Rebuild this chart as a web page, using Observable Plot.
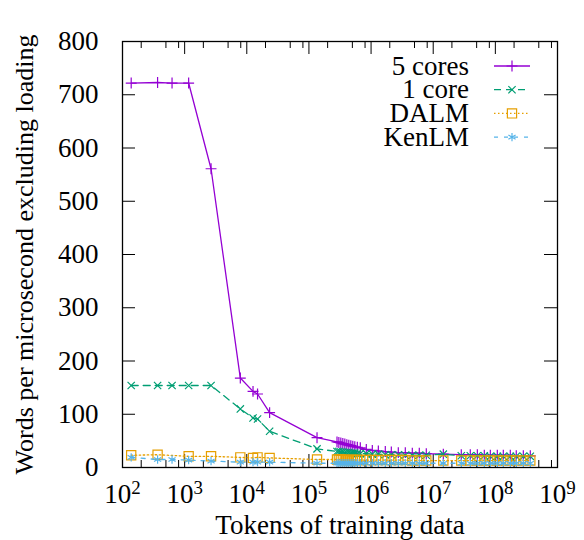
<!DOCTYPE html>
<html><head><meta charset="utf-8">
<script src="https://cdn.jsdelivr.net/npm/d3@7"></script>
<script src="https://cdn.jsdelivr.net/npm/@observablehq/plot@0.6"></script>
<style>body{margin:0;background:#fff;}</style></head><body><div id="chart"></div>
<script>
// ---- data ----
const tokens = [138, 367, 627, 1160, 2660, 7870, 12600, 14900, 23300, 135000,
  283000, 303000, 326000, 351000, 378000, 407000, 438000, 472000, 508000, 547000, 601000, 671000,
  838000, 1047000, 1309000, 1694000, 2118000, 2743000, 3555000, 4610000, 5970000, 7740000,
  14550000, 28300000, 39500000, 51300000, 66400000, 83000000, 107500000, 134300000, 174000000, 217000000, 282000000, 365000000];
const cores5 = [722, 723, 722, 722, 561, 168, 143, 138, 103, 56,
  48, 47, 46, 45, 44, 43, 42, 41, 40, 39, 38, 37,
  34, 32, 31, 30, 29, 28, 28, 27, 27, 26,
  25, 24, 24, 24, 23, 23, 23, 23, 23, 22, 22, 22];
const core1 = [154, 154, 154, 154, 154, 110, 93, 91, 68, 35,
  30, 30, 29, 29, 28, 28, 28, 27, 27, 27, 26, 26,
  26, 25, 25, 24, 24, 24, 23, 23, 23, 23,
  25, 22, 22, 22, 22, 21, 21, 21, 21, 21, 21, 21];
const dalm = [23, 24, null, 21, 21, 19, 18, 19, 18, 15,
  15, 15, 15, 14, 14, 14, 14, 14, 14, 14, 14, 14,
  14, 14, 14, 14, 14, 14, 14, 13, 13, 13,
  13, 13, 13, 13, 13, 13, 13, 13, 13, 13, 13, 13];
const kenlm = [19, 15, 15, 14, 12, 10, 10, 10, 10, 8,
  8, 8, 8, 8, 8, 8, 8, 8, 8, 8, 8, 8,
  8, 8, 8, 8, 8, 8, 8, 8, 8, 8,
  8, 8, 8, 8, 8, 8, 8, 8, 8, 8, 8, 8];
const seriesNames = ["5 cores", "1 core", "DALM", "KenLM"];
const xTicks = [1e2, 1e3, 1e4, 1e5, 1e6, 1e7, 1e8, 1e9];
const xTickExp = ["2", "3", "4", "5", "6", "7", "8", "9"];
const minorMult = [2, 5, 8];
const yTicks = [0, 100, 200, 300, 400, 500, 600, 700, 800];
const xLabel = "Tokens of training data";
const yLabel = "Words per microsecond excluding loading";

// ---- style ----
const colors = ["#9400d3", "#009e73", "#e69f00", "#56b4e9"];
const symbols = ["plus", "times", "square", "asterisk"];
const dashes = [null, "7,5", "1.5,2.5", "4,6"];
const radii = [3.6, 3.4, 5.2, 3.9];
const values = [cores5, core1, dalm, kenlm];

const W = 584, H = 540, ML = 122, MR = 27, MT = 41, MB = 73;
const pxPerDecade = (W - ML - MR) / 7;
const unitsPerPx = 800 / (H - MT - MB);
const major = 13, minor = 7;
const FONT = "Liberation Serif";
const FS = 27;

const series = seriesNames.map((name, k) =>
  tokens.map((t, i) => ({name, t, v: values[k][i]})).filter(d => d.v != null));

const minorX = xTicks.slice(0, -1).flatMap(t => minorMult.map(m => t * m));
const yTickX2 = xTicks[0] * Math.pow(10, major / pxPerDecade);
const yTickX2r = xTicks[xTicks.length - 1] / Math.pow(10, major / pxPerDecade);

const marks = [
  Plot.ruleX(xTicks, {x: d => d, y1: 0, y2: major * unitsPerPx, stroke: "black", strokeWidth: 1}),
  Plot.ruleX(xTicks, {x: d => d, y1: 800, y2: 800 - major * unitsPerPx, stroke: "black", strokeWidth: 1}),
  Plot.ruleX(minorX, {x: d => d, y1: 0, y2: minor * unitsPerPx, stroke: "black", strokeWidth: 1}),
  Plot.ruleX(minorX, {x: d => d, y1: 800, y2: 800 - minor * unitsPerPx, stroke: "black", strokeWidth: 1}),
  Plot.ruleY(yTicks, {y: d => d, x1: xTicks[0], x2: yTickX2, stroke: "black", strokeWidth: 1}),
  Plot.ruleY(yTicks, {y: d => d, x1: xTicks[xTicks.length - 1], x2: yTickX2r, stroke: "black", strokeWidth: 1}),
  Plot.text(xTicks, {x: d => d, frameAnchor: "bottom", dy: 16, lineAnchor: "top", textAnchor: "middle",
    text: (d, i) => "10^" + xTickExp[i], fontSize: FS, fontFamily: FONT, ariaLabel: "xticklabels"}),
  Plot.text(yTicks, {y: d => d, frameAnchor: "left", dx: -24, textAnchor: "end", lineAnchor: "middle",
    text: d => String(d), fontSize: FS, fontFamily: FONT}),
  Plot.text([xLabel], {frameAnchor: "bottom", dy: 47, lineAnchor: "top", textAnchor: "middle",
    text: d => d, fontSize: FS, fontFamily: FONT}),
  Plot.text([yLabel], {frameAnchor: "left", dx: -108, rotate: -90, lineAnchor: "top", textAnchor: "middle",
    text: d => d, fontSize: 26, fontFamily: FONT})
];
series.forEach((data, k) => {
  marks.push(Plot.line(data, {x: "t", y: "v", stroke: colors[k], strokeWidth: 1.3,
    strokeDasharray: dashes[k] || undefined}));
  marks.push(Plot.dot(data, {x: "t", y: "v", symbol: symbols[k], r: radii[k],
    stroke: colors[k], fill: "none", strokeWidth: 1.2}));
});
marks.push(Plot.frame({stroke: "black", strokeWidth: 1.3}));

const plot = Plot.plot({
  width: W, height: H,
  marginLeft: ML, marginRight: MR, marginTop: MT, marginBottom: MB,
  x: {type: "log", domain: [1e2, 1e9], axis: null},
  y: {domain: [0, 800], axis: null},
  style: {fontFamily: FONT, fontSize: FS + "px", color: "black", background: "white"},
  marks
});

// superscript exponents on x tick labels
d3.select(plot).selectAll("text").each(function() {
  const s = this.textContent;
  if (/^10\^\d$/.test(s)) {
    const [b, e] = s.split("^");
    this.textContent = b;
    d3.select(this).append("tspan").attr("dy", "-0.45em").attr("font-size", "0.7em").text(e);
  }
});

// legend (inside the plot, top-right, gnuplot style)
const leg = d3.select(plot).append("g").attr("font-family", FONT).attr("font-size", FS);
seriesNames.forEach((name, k) => {
  const cy = MT + 25 + k * 23.7;
  leg.append("text").attr("x", 469).attr("y", cy).attr("dy", "0.32em")
    .attr("text-anchor", "end").attr("fill", "black").text(name);
  leg.append("line").attr("x1", 494).attr("x2", 530).attr("y1", cy).attr("y2", cy)
    .attr("stroke", colors[k]).attr("stroke-width", 1.3)
    .attr("stroke-dasharray", dashes[k]);
  const sym = {plus: d3.symbolPlus, times: d3.symbolTimes, square: d3.symbolSquare, asterisk: d3.symbolAsterisk}[symbols[k]];
  leg.append("path").attr("transform", `translate(512,${cy})`)
    .attr("d", d3.symbol(sym, Math.PI * radii[k] * radii[k])())
    .attr("fill", "none").attr("stroke", colors[k]).attr("stroke-width", 1.2);
});

document.getElementById("chart").appendChild(plot);
</script></body></html>
